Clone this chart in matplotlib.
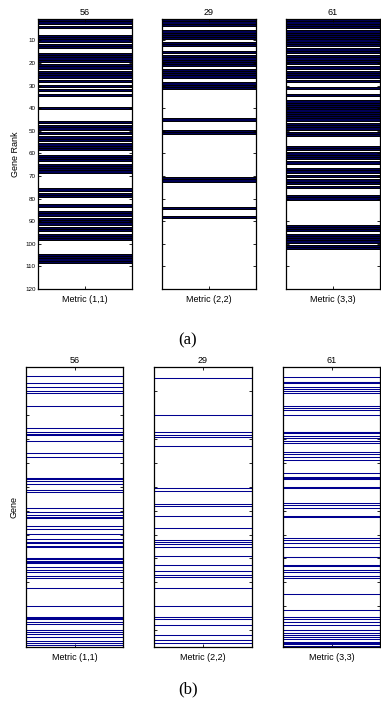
import matplotlib
matplotlib.use("Agg")
import matplotlib.pyplot as plt

# top row: gene ranks selected by each metric (count = panel title)
ranks_11 = [1, 2, 4, 8, 9, 10, 12, 13, 16, 17, 18, 19, 21, 22, 24, 25, 26, 28, 30, 32,
            34, 40, 46, 48, 49, 51, 53, 54, 56, 57, 58, 61, 62, 63, 65, 66, 67, 68, 76, 78,
            79, 83, 86, 87, 89, 90, 91, 93, 94, 96, 97, 98, 105, 106, 107, 108]
ranks_22 = [1, 2, 3, 6, 7, 8, 9, 11, 12, 15, 17, 18, 19, 20, 21, 23, 24, 25, 26, 29,
            30, 31, 45, 50, 51, 71, 72, 84, 88]
ranks_33 = [1, 2, 3, 4, 6, 7, 8, 9, 10, 11, 12, 14, 15, 17, 18, 19, 20, 22, 24, 25,
            26, 28, 31, 34, 37, 38, 39, 40, 41, 42, 43, 44, 45, 47, 48, 49, 51, 52, 57, 58,
            60, 61, 62, 64, 67, 68, 70, 72, 73, 75, 79, 80, 92, 93, 94, 96, 97, 98, 99, 101,
            102]

# bottom row: gene indices of the selected genes
genes_11 = [38, 68, 85, 99, 110, 163, 253, 270, 278, 286, 309, 361, 374, 463, 470, 478,
            489, 515, 524, 591, 604, 619, 626, 632, 665, 677, 696, 720, 730, 737, 746, 754,
            797, 803, 809, 815, 821, 835, 849, 856, 874, 882, 925, 998, 1044, 1048, 1055,
            1065, 1074, 1101, 1106, 1116, 1129, 1144, 1155, 1162]
genes_22 = [47, 201, 270, 286, 292, 329, 507, 518, 574, 580, 623, 674, 723, 733, 741, 754,
            789, 828, 851, 869, 877, 925, 998, 1044, 1055, 1078, 1120, 1139, 1152]
genes_33 = [41, 61, 64, 67, 85, 90, 99, 110, 163, 173, 178, 201, 270, 273, 276, 287, 298,
            309, 316, 354, 364, 375, 389, 444, 461, 465, 469, 500, 507, 570, 575, 591, 623,
            627, 716, 723, 737, 751, 793, 796, 826, 830, 849, 856, 875, 880, 949, 1016, 1044,
            1055, 1067, 1076, 1101, 1112, 1120, 1129, 1138, 1148, 1153, 1158, 1164]

metric_labels = ["Metric (1,1)", "Metric (2,2)", "Metric (3,3)"]
rank_sets = [ranks_11, ranks_22, ranks_33]
gene_sets = [genes_11, genes_22, genes_33]

W, H = 381, 707
fig = plt.figure(figsize=(W / 100, H / 100), dpi=100)
plt.rcParams["font.family"] = ["Liberation Sans", "DejaVu Sans"]


def px_axes(x0, x1, y0, y1):
    """Axes from pixel box (top-left origin)."""
    return fig.add_axes([x0 / W, 1 - y1 / H, (x1 - x0) / W, (y1 - y0) / H])


def style(ax):
    ax.tick_params(direction="in", length=2, width=0.6, labelsize=4.5,
                   top=True, right=True, pad=1.5)
    for s in ax.spines.values():
        s.set_linewidth(0.9)
    ax.set_xlim(0, 1)
    ax.set_xticks([0.5])
    ax.set_xticklabels([])


top_x = [(38, 132), (162, 256), (286, 380)]
bot_x = [(26, 123), (154, 252), (283, 380)]

for i in range(3):
    ax = px_axes(top_x[i][0], top_x[i][1], 19, 289)
    ax.barh(rank_sets[i], 1, height=1.0, left=0, color="#000055",
            edgecolor="black", linewidth=0.7)
    ax.set_ylim(120, 0.5)
    ax.set_yticks(range(10, 121, 10))
    style(ax)
    if i > 0:
        ax.set_yticklabels([])
    ax.set_title(str(len(rank_sets[i])), fontsize=6.5, pad=3)
    ax.set_xlabel(metric_labels[i], fontsize=6.5, labelpad=3)
    if i == 0:
        ax.set_ylabel("Gene Rank", fontsize=6.5, labelpad=4)

for i in range(3):
    ax = px_axes(bot_x[i][0], bot_x[i][1], 367, 647)
    ax.hlines(gene_sets[i], 0, 1, color="#000090", linewidth=0.75)
    ax.set_ylim(1170, 0)
    ax.set_yticks(range(100, 1170, 100))
    style(ax)
    ax.set_yticklabels([])
    ax.set_title(str(len(gene_sets[i])), fontsize=6.5, pad=3)
    ax.set_xlabel(metric_labels[i], fontsize=6.5, labelpad=3)
    if i == 0:
        ax.set_ylabel("Gene", fontsize=6.5, labelpad=4)

fig.text(188 / W, 1 - 340 / H, "(a)", ha="center", va="center",
         fontsize=12, family="Liberation Serif")
fig.text(188 / W, 1 - 689 / H, "(b)", ha="center", va="center",
         fontsize=12, family="Liberation Serif")

fig.savefig("out.png", dpi=100)
